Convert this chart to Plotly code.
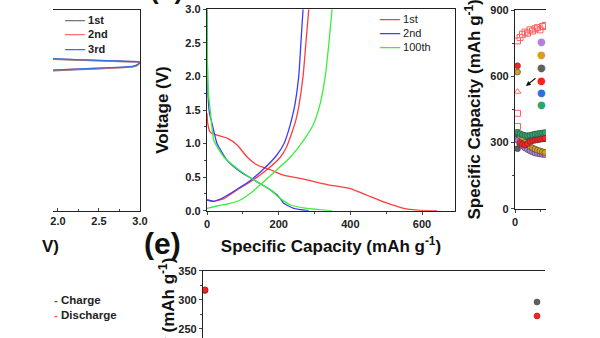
import plotly.graph_objects as go

FONT = "Liberation Sans, Arial, sans-serif"
W, H = 600, 338


def fx(p):
    return p / W


def fy(p):
    return 1 - p / H


# ---------------- Panel (b): charge / discharge profiles ----------------
cap_1st_dis = [0, 2, 8, 14, 56, 84, 112, 140, 177, 214, 270, 335, 400, 447, 493, 549, 586, 642]
v_1st_dis = [1.45, 1.30, 1.18, 1.15, 1.08, 0.98, 0.80, 0.68, 0.61, 0.53, 0.47, 0.39, 0.33, 0.23, 0.13, 0.035, 0.01, 0.0]
cap_1st_ch = [0, 19, 47, 84, 121, 167, 205, 222, 236, 248, 256, 268, 276, 284]
v_1st_ch = [0.16, 0.14, 0.18, 0.31, 0.43, 0.61, 0.80, 0.95, 1.15, 1.35, 1.55, 2.00, 2.50, 3.0]

cap_2nd_dis = [0, 1, 3, 7, 14, 28, 56, 93, 140, 177, 200, 214, 242, 284]
v_2nd_dis = [3.0, 2.2, 1.7, 1.45, 1.30, 1.0, 0.75, 0.58, 0.43, 0.31, 0.21, 0.11, 0.035, 0.0]
cap_2nd_ch = [0, 19, 47, 84, 121, 158, 195, 215, 228, 238, 246, 256, 262, 268]
v_2nd_ch = [0.16, 0.14, 0.20, 0.32, 0.45, 0.62, 0.83, 1.00, 1.20, 1.40, 1.60, 2.00, 2.50, 3.0]

cap_100th_dis = [0, 1, 3, 9, 19, 47, 84, 130, 177, 205, 233, 279, 349]
v_100th_dis = [3.0, 2.3, 1.8, 1.5, 1.05, 0.80, 0.63, 0.46, 0.31, 0.18, 0.085, 0.035, 0.0]
cap_100th_ch = [0, 28, 65, 93, 121, 158, 195, 233, 270, 298, 316, 330, 340, 349]
v_100th_ch = [0.035, 0.07, 0.11, 0.16, 0.26, 0.43, 0.61, 0.80, 1.05, 1.30, 1.60, 2.0, 2.49, 3.0]

cycle_names_b = ["1st", "2nd", "100th"]
cycle_colors_b = ["#ff3b3b", "#3b3bff", "#3cee3c"]

# ---------------- Panel (a): cycles (cropped) ----------------
a_potential = [1.94, 2.2, 2.5, 2.8, 2.92, 2.97, 3.0, 2.9, 2.6, 2.3, 1.94]
a_1st = [0.698, 0.703, 0.708, 0.714, 0.718, 0.726, 0.740, 0.742, 0.746, 0.750, 0.755]
a_2nd = [0.700, 0.705, 0.710, 0.715, 0.719, 0.727, 0.741, 0.743, 0.747, 0.751, 0.757]
a_3rd = [0.701, 0.706, 0.711, 0.716, 0.720, 0.728, 0.741, 0.744, 0.748, 0.752, 0.758]
a_names = ["1st", "2nd", "3rd"]
a_colors = ["#777777", "#ff7070", "#3a6fd8"]

# ---------------- Panel (c): rate performance (cropped) ----------------
c_cycles = [1, 2, 3, 4, 5, 6, 7, 8, 9, 10, 11, 12]
c_discharge_red = [760, 775, 790, 800, 795, 810, 805, 815, 820, 810, 825, 830]
c_first_open_cycle = [1, 1, 1]
c_first_open_vals = [530, 432, 372]
c_purple = [310, 295, 285, 275, 268, 262, 257, 252, 250, 248, 246, 245]
c_gold = [619, 330, 315, 300, 290, 282, 275, 270, 265, 262, 258, 255]
c_gray = [272, 290, 300, 305, 308, 310, 312, 313, 314, 315, 316, 317]
c_blue = [335, 330, 325, 322, 320, 322, 324, 326, 328, 330, 331, 332]
c_green = [345, 340, 335, 332, 330, 333, 335, 338, 340, 342, 343, 345]
c_red = [647, 300, 292, 288, 295, 305, 308, 310, 312, 315, 318, 320]
c_series_colors = {"purple": "#b07fe0", "gold": "#d4a020", "gray": "#606060",
                   "red": "#ff2020", "blue": "#2a72e0", "green": "#2ea56e"}

# ---------------- Panel (e): long cycling (cropped) ----------------
e_cycles = [1, 1000]
e_gray = [316, 296]
e_red = [317, 272]

fig = go.Figure()

# panel (b)
for name, color, cd, vd, cc, vc in zip(
        cycle_names_b, cycle_colors_b,
        [cap_1st_dis, cap_2nd_dis, cap_100th_dis], [v_1st_dis, v_2nd_dis, v_100th_dis],
        [cap_1st_ch, cap_2nd_ch, cap_100th_ch], [v_1st_ch, v_2nd_ch, v_100th_ch]):
    fig.add_trace(go.Scatter(
        x=cd + [None] + cc, y=vd + [None] + vc, mode="lines", name=name, showlegend=False,
        line=dict(color=color, width=1.3, shape="spline", smoothing=0.5),
        xaxis="x", yaxis="y"))

# panel (a)
for name, color, vals in zip(a_names, a_colors, [a_1st, a_2nd, a_3rd]):
    fig.add_trace(go.Scatter(
        x=a_potential, y=vals, mode="lines", name=name, showlegend=False,
        line=dict(color=color, width=1.4, shape="spline", smoothing=0.6),
        xaxis="x2", yaxis="y2"))

# panel (c)
fig.add_trace(go.Scatter(
    x=c_cycles, y=c_discharge_red, mode="markers", showlegend=False,
    marker=dict(symbol="square-open", size=6, color="#ff6060", line=dict(width=1)),
    xaxis="x5", yaxis="y5"))
fig.add_trace(go.Scatter(
    x=c_first_open_cycle, y=c_first_open_vals, mode="markers", showlegend=False,
    marker=dict(symbol=["triangle-up-open", "square-open", "square-open"], size=6,
                color="#ff6060", line=dict(width=1)),
    xaxis="x5", yaxis="y5"))
for key, vals in [("gray", c_gray), ("blue", c_blue), ("purple", c_purple),
                  ("gold", c_gold), ("red", c_red), ("green", c_green)]:
    col = c_series_colors[key]
    fig.add_trace(go.Scatter(
        x=c_cycles, y=vals, mode="markers", showlegend=False,
        marker=dict(symbol="circle", size=6, color=col, line=dict(width=0.5, color="#333")),
        xaxis="x5", yaxis="y5"))

# panel (e)
fig.add_trace(go.Scatter(
    x=e_cycles, y=e_gray, mode="markers", showlegend=False,
    marker=dict(size=6, color="#606060", line=dict(width=0.5, color="#333")),
    xaxis="x4", yaxis="y4"))
fig.add_trace(go.Scatter(
    x=e_cycles, y=e_red, mode="markers", showlegend=False,
    marker=dict(size=6, color="#ff2020", line=dict(width=0.5, color="#900")),
    xaxis="x4", yaxis="y4"))

LINE = dict(showline=True, linecolor="#222", linewidth=1.3, showgrid=False, zeroline=False)
TICKFONT = dict(family=FONT, size=11, color="#222", weight="bold")
TITLEFONT = dict(family=FONT, size=17, color="#111", weight="bold")

fig.update_layout(
    width=W, height=H,
    margin=dict(l=0, r=0, t=0, b=0, autoexpand=False),
    paper_bgcolor="white", plot_bgcolor="white",
    font=dict(family=FONT, color="#222"),
    showlegend=False,
    # panel (b)
    xaxis=dict(domain=[fx(207), fx(455)], range=[0, 692], anchor="y", mirror=True,
               ticks="outside", ticklen=3, tickwidth=1.2, tick0=0, dtick=200,
               minor=dict(ticks="outside", ticklen=2, dtick=100),
               tickfont=TICKFONT,
               title=dict(text="Specific Capacity (mAh g<sup>-1</sup>)", font=TITLEFONT, standoff=11),
               **LINE),
    yaxis=dict(domain=[fy(210.7), fy(9.3)], range=[0, 3], anchor="x", mirror=True,
               ticks="outside", ticklen=3, tickwidth=1.2, tick0=0, dtick=0.5, tickformat=".1f",
               minor=dict(ticks="outside", ticklen=2, dtick=0.25),
               tickfont=TICKFONT,
               title=dict(text="Voltage (V)", font=TITLEFONT, standoff=12),
               **LINE),
    # panel (a)
    xaxis2=dict(domain=[fx(53), fx(140)], range=[1.94, 3.0], anchor="y2", mirror=True,
                ticks="inside", ticklen=3, tickwidth=1.2, tick0=0, dtick=0.5, tickformat=".1f",
                minor=dict(ticks="inside", ticklen=2, dtick=0.25),
                tickfont=TICKFONT, **LINE),
    yaxis2=dict(domain=[fy(211), fy(10)], range=[0, 1], anchor="x2", side="right",
                showticklabels=False, ticks="", **LINE),
    # lower-left panel (d)
    xaxis3=dict(domain=[fx(53), fx(142)], range=[0, 1], anchor="y3", side="top",
                showticklabels=False, ticks="", **LINE),
    yaxis3=dict(domain=[0, fy(269)], range=[0, 1], anchor="x3", side="right",
                showticklabels=False, ticks="", **LINE),
    # panel (e)
    xaxis4=dict(domain=[fx(203), fx(545)], range=[-5, 1024], anchor="y4", side="top",
                showticklabels=False, ticks="", **LINE),
    yaxis4=dict(domain=[0, fy(270.7)], range=[234, 350], anchor="x4",
                ticks="outside", ticklen=3, tickwidth=1.2, tick0=0, dtick=50,
                minor=dict(ticks="outside", ticklen=2, dtick=25),
                tickfont=TICKFONT, **LINE),
    # panel (c)
    xaxis5=dict(domain=[fx(515), fx(546)], range=[0, 12.4], anchor="y5", mirror=True,
                ticks="outside", ticklen=3, tickwidth=1.2, tick0=0, dtick=20,
                minor=dict(ticks="outside", ticklen=2, dtick=10),
                tickfont=TICKFONT, **LINE),
    yaxis5=dict(domain=[fy(208.7), fy(10)], range=[0, 900], anchor="x5",
                ticks="outside", ticklen=3, tickwidth=1.2, tick0=0, dtick=300,
                minor=dict(ticks="outside", ticklen=2, dtick=150),
                tickfont=TICKFONT,
                title=dict(text="Specific Capacity (mAh g<sup>-1</sup>)", font=TITLEFONT, standoff=5),
                **LINE),
)

ann = []
# legend of panel (b)
for name, color, ypx in zip(cycle_names_b, cycle_colors_b, [19, 33, 47]):
    ann.append(dict(
        text=f"<span style='color:{color};font-size:10px;font-weight:bold'>——</span> {name}",
        x=fx(378), y=fy(ypx), xref="paper", yref="paper", xanchor="left", yanchor="middle",
        showarrow=False, font=dict(family=FONT, size=11, color="#222")))
# legend of panel (a)
for name, color, ypx in zip(a_names, a_colors, [20, 34, 49]):
    ann.append(dict(
        text=f"<span style='color:{color};font-size:10px'>——</span> {name}",
        x=fx(63), y=fy(ypx), xref="paper", yref="paper", xanchor="left", yanchor="middle",
        showarrow=False, font=dict(family=FONT, size=11, color="#222", weight="bold")))
# cropped title of panel (a) x-axis
ann.append(dict(text="V)", x=fx(61), y=fy(246), xref="paper", yref="paper",
                xanchor="right", yanchor="middle", showarrow=False, font=TITLEFONT))
# panel labels
ann.append(dict(text="(e)", x=fx(142), y=fy(243), xref="paper", yref="paper",
                xanchor="left", yanchor="middle", showarrow=False,
                font=dict(family=FONT, size=30, color="#111", weight="bold")))
ann.append(dict(text="(b)", x=fx(166), y=fy(6.5), xref="paper", yref="paper",
                xanchor="center", yanchor="bottom", showarrow=False,
                font=dict(family=FONT, size=26, color="#111", weight="bold")))
# panel (d) legend (cropped)
ann.append(dict(text="<span style='color:#555555'>-</span> Charge", x=fx(52), y=fy(300),
                xref="paper", yref="paper", xanchor="left", yanchor="middle", showarrow=False,
                font=dict(family=FONT, size=11.5, color="#222", weight="bold")))
ann.append(dict(text="<span style='color:#ff5050'>-</span> Discharge", x=fx(52), y=fy(315),
                xref="paper", yref="paper", xanchor="left", yanchor="middle", showarrow=False,
                font=dict(family=FONT, size=11.5, color="#222", weight="bold")))
# panel (e) y title (cropped)
ann.append(dict(text="Specific Capacity (mAh g<sup>-1</sup>)", x=fx(167), y=fy(256),
                xref="paper", yref="paper", xanchor="center", yanchor="top", textangle=-90,
                showarrow=False, font=TITLEFONT))
# panel (c) legend keys (labels cropped)
for key, ypx in zip(["purple", "gold", "gray", "red", "blue", "green"], [42, 54, 67, 80, 93, 105]):
    ann.append(dict(text="●", x=fx(541), y=fy(ypx), xref="paper", yref="paper",
                    xanchor="center", yanchor="middle", showarrow=False,
                    font=dict(family="DejaVu Sans", size=10, color=c_series_colors[key])))
# arrow in panel (c)
ann.append(dict(text="", x=4.4, y=556, xref="x5", yref="y5", ax=11, ay=-9,
                showarrow=True, arrowhead=2, arrowsize=0.8, arrowwidth=1.2, arrowcolor="#111"))
fig.update_layout(annotations=ann)

fig.write_html("out.html")
